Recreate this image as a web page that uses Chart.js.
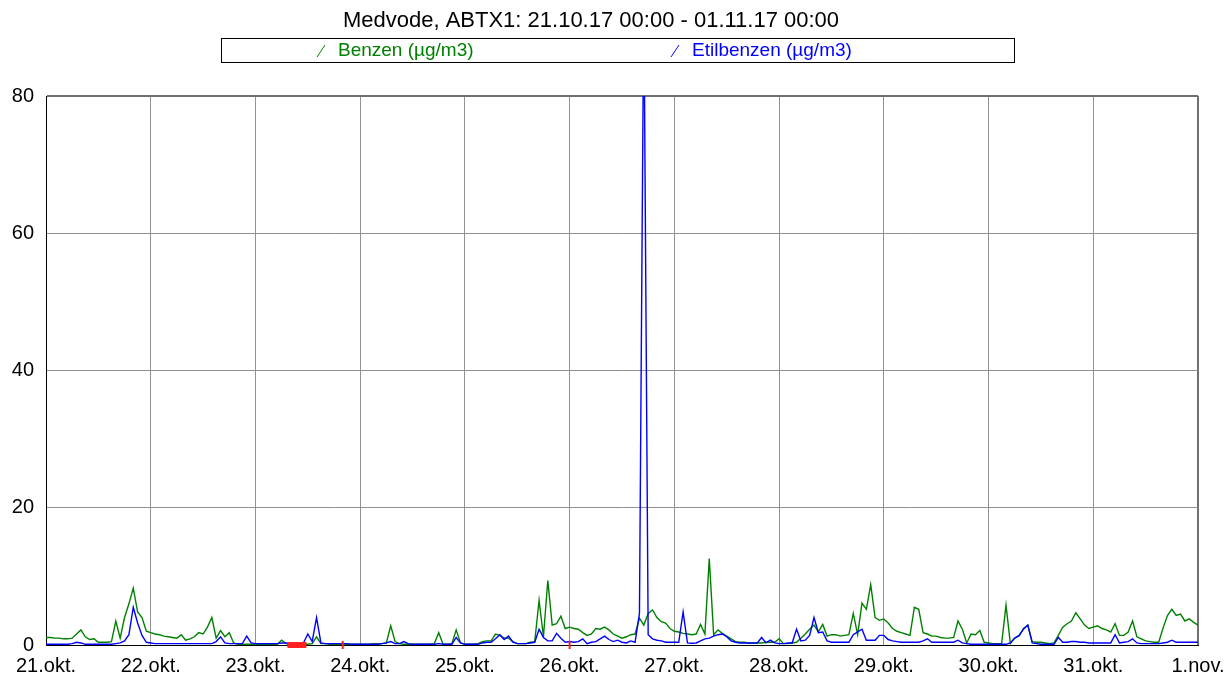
<!DOCTYPE html>
<html>
<head>
<meta charset="utf-8">
<script src="https://cdn.jsdelivr.net/npm/chart.js@4.4.0/dist/chart.umd.min.js"></script>
<style>
  html, body { margin: 0; padding: 0; background: #fff; }
  #wrap { width: 1225px; height: 679px; position: relative; }
</style>
</head>
<body>
<div id="wrap"><canvas id="chart"></canvas></div>
<script>
const title = 'Medvode, ABTX1: 21.10.17 00:00 - 01.11.17 00:00';
const dayLabels = ['21.okt.', '22.okt.', '23.okt.', '24.okt.', '25.okt.', '26.okt.',
  '27.okt.', '28.okt.', '29.okt.', '30.okt.', '31.okt.', '1.nov.'];
const yTicks = [0, 20, 40, 60, 80];
const seriesNames = ['Benzen (µg/m3)', 'Etilbenzen (µg/m3)'];

// hourly values, one row per day (00:00 .. 23:00), last value = 1.11. 00:00
const benzen = [
  1.1, 1.1, 1.0, 1.0, 0.9, 0.9, 1.0, 1.6, 2.2, 1.2, 0.8, 0.9, 0.4, 0.4, 0.4, 0.5, 3.5, 1.0, 4.0, 6.0, 8.3, 4.8, 4.0, 2.0,
  1.8, 1.6, 1.5, 1.3, 1.2, 1.1, 1.0, 1.5, 0.7, 0.9, 1.2, 1.8, 1.6, 2.6, 4.0, 1.0, 2.1, 1.2, 1.8, 0.3, 0.1, 0.1, 0.1, 0.1,
  0.1, 0.1, 0.1, 0.1, 0.1, 0.1, 0.7, 0.2, 0.1, 0.1, 0.1, 0.1, 0.1, 0.2, 1.2, 0.2, 0.2, 0.1, 0.1, 0.1, 0.1, 0.1, 0.1, 0.1,
  0.1, 0.1, 0.1, 0.2, 0.2, 0.2, 0.3, 2.8, 0.5, 0.2, 0.1, 0.1, 0.1, 0.1, 0.1, 0.1, 0.1, 0.2, 1.8, 0.1, 0.1, 0.2, 2.2, 0.3,
  0.1, 0.1, 0.1, 0.2, 0.5, 0.6, 0.6, 1.6, 1.4, 1.0, 1.0, 0.5, 0.2, 0.2, 0.2, 0.4, 0.5, 6.5, 1.2, 9.4, 2.9, 3.1, 4.2, 2.4,
  2.6, 2.4, 2.3, 1.8, 1.4, 1.6, 2.4, 2.3, 2.6, 2.2, 1.6, 1.3, 1.0, 1.2, 1.5, 1.6, 3.9, 2.9, 4.6, 5.1, 4.0, 3.4, 3.2, 2.4,
  2.0, 1.9, 1.7, 1.6, 1.5, 1.6, 3.0, 1.6, 12.6, 1.5, 2.2, 1.7, 1.3, 0.9, 0.5, 0.4, 0.4, 0.3, 0.3, 0.3, 0.3, 0.4, 0.4, 0.4,
  0.9, 0.2, 0.2, 0.3, 0.4, 1.0, 1.6, 2.3, 2.9, 1.9, 3.0, 1.3, 1.5, 1.5, 1.3, 1.4, 1.5, 4.6, 1.5, 6.1, 5.2, 8.8, 4.0, 3.6,
  3.8, 3.2, 2.4, 2.0, 1.8, 1.6, 1.4, 5.5, 5.2, 1.8, 1.6, 1.3, 1.3, 1.1, 1.0, 1.0, 1.1, 3.5, 2.3, 0.3, 1.6, 1.5, 2.1, 0.4,
  0.3, 0.2, 0.2, 0.2, 5.8, 0.2, 1.0, 1.3, 2.4, 2.9, 0.5, 0.4, 0.4, 0.3, 0.2, 0.3, 1.4, 2.6, 3.1, 3.5, 4.7, 3.8, 2.9, 2.4,
  2.6, 2.8, 2.4, 2.2, 1.9, 3.1, 1.4, 1.4, 1.9, 3.5, 1.2, 0.9, 0.6, 0.5, 0.4, 0.4, 2.5, 4.3, 5.2, 4.3, 4.5, 3.5, 3.8, 3.3,
  2.9
];
const etilbenzen = [
  0.1, 0.1, 0.1, 0.1, 0.1, 0.1, 0.2, 0.4, 0.3, 0.1, 0.1, 0.1, 0.1, 0.1, 0.1, 0.1, 0.2, 0.3, 0.6, 1.5, 5.5, 3.2, 1.4, 0.4,
  0.3, 0.2, 0.2, 0.2, 0.2, 0.2, 0.2, 0.2, 0.2, 0.2, 0.2, 0.2, 0.2, 0.2, 0.2, 0.5, 1.2, 0.3, 0.2, 0.2, 0.2, 0.2, 1.3, 0.3,
  0.2, 0.2, 0.2, 0.2, 0.2, 0.2, 0.3, 0.3, 0.2, 0.1, 0.1, 0.3, 1.6, 0.5, 4.0, 0.3, 0.2, 0.2, 0.2, 0.2, 0.2, 0.2, 0.1, 0.1,
  0.1, 0.1, 0.1, 0.1, 0.1, 0.2, 0.3, 0.5, 0.2, 0.2, 0.5, 0.2, 0.1, 0.1, 0.1, 0.1, 0.1, 0.1, 0.2, 0.1, 0.1, 0.1, 1.1, 0.3,
  0.1, 0.1, 0.1, 0.1, 0.3, 0.4, 0.4, 0.9, 1.5, 0.8, 1.3, 0.4, 0.2, 0.2, 0.2, 0.3, 0.4, 2.3, 1.1, 0.6, 0.6, 1.7, 1.0, 0.4,
  0.5, 0.4, 0.5, 0.9, 0.2, 0.4, 0.5, 0.9, 1.3, 0.8, 0.5, 0.7, 0.4, 0.3, 0.6, 0.4, 4.6, 95, 1.5, 0.9, 0.7, 0.6, 0.4, 0.4,
  0.4, 0.4, 4.8, 0.3, 0.25, 0.3, 0.6, 0.9, 1.0, 1.3, 1.5, 1.6, 1.2, 0.6, 0.4, 0.3, 0.3, 0.3, 0.3, 0.3, 1.1, 0.3, 0.7, 0.3,
  0.2, 0.2, 0.3, 0.3, 2.3, 0.6, 0.7, 1.4, 4.0, 1.8, 1.9, 0.6, 0.4, 0.4, 0.4, 0.4, 0.4, 1.5, 1.9, 2.3, 0.7, 0.7, 0.7, 1.4,
  1.4, 0.8, 0.6, 0.5, 0.4, 0.4, 0.4, 0.4, 0.4, 0.6, 0.9, 0.4, 0.4, 0.4, 0.4, 0.4, 0.4, 0.7, 0.3, 0.2, 0.1, 0.1, 0.1, 0.1,
  0.1, 0.1, 0.1, 0.1, 0.1, 0.3, 1.0, 1.4, 2.3, 2.9, 0.3, 0.2, 0.1, 0.1, 0.1, 0.1, 1.1, 0.4, 0.4, 0.5, 0.5, 0.4, 0.4, 0.3,
  0.3, 0.3, 0.3, 0.3, 0.3, 1.5, 0.3, 0.4, 0.5, 0.9, 0.3, 0.2, 0.2, 0.2, 0.2, 0.2, 0.3, 0.4, 0.7, 0.4, 0.4, 0.4, 0.4, 0.4,
  0.4
];
// hours with missing data (red marks on the axis)
const missingBlock = [56, 57, 58, 59];
const missingTicks = [68, 120];

const FONT = '"Liberation Sans", Arial, sans-serif';
Chart.defaults.font.family = FONT;
Chart.defaults.color = '#000';

const toPoints = arr => arr.map((v, i) => ({ x: i, y: v }));
const lastHour = (dayLabels.length - 1) * 24;

// title + boxed legend like the original report
const headerPlugin = {
  id: 'header',
  afterDraw(chart) {
    const c = chart.ctx;
    c.save();
    c.fillStyle = '#000';
    c.font = '22px ' + FONT;
    c.textAlign = 'center';
    c.textBaseline = 'middle';
    c.fillText(title, 591, 21);

    c.strokeStyle = '#000';
    c.lineWidth = 1;
    c.strokeRect(221.5, 38.5, 793, 24);

    const items = [
      { text: seriesNames[0], color: '#008000', x: 317 },
      { text: seriesNames[1], color: '#0000ff', x: 671 }
    ];
    c.font = '19px ' + FONT;
    c.textAlign = 'left';
    items.forEach(it => {
      c.strokeStyle = it.color;
      c.beginPath();
      c.moveTo(it.x, 57);
      c.lineTo(it.x + 8, 45);
      c.stroke();
      c.fillStyle = it.color;
      c.fillText(it.text, it.x + 21, 51);
    });
    c.restore();
  }
};

new Chart(document.getElementById('chart'), {
  type: 'line',
  data: {
    datasets: [
      {
        label: seriesNames[1],
        data: toPoints(etilbenzen),
        borderColor: '#0000ff',
        borderWidth: 1.4,
        pointRadius: 0,
        tension: 0,
        order: 1
      },
      {
        label: seriesNames[0],
        data: toPoints(benzen),
        borderColor: '#008000',
        borderWidth: 1.4,
        pointRadius: 0,
        tension: 0,
        order: 2
      },
      {
        label: 'missing',
        data: missingBlock.map(i => ({ x: i, y: 0 })),
        showLine: false,
        pointStyle: 'rect',
        pointRadius: 4.2,
        pointBorderWidth: 0,
        pointBackgroundColor: '#ff2020',
        clip: false,
        order: 0
      },
      {
        label: 'missing',
        data: missingTicks.map(i => ({ x: i, y: 0 })),
        showLine: false,
        pointStyle: 'line',
        pointRotation: 90,
        pointRadius: 4,
        pointBorderWidth: 2,
        pointBorderColor: '#ff2020',
        clip: false,
        order: 0
      }
    ]
  },
  options: {
    responsive: true,
    maintainAspectRatio: false,
    animation: false,
    events: [],
    layout: { padding: { top: 96, right: 27, left: 0, bottom: 0 } },
    plugins: {
      legend: { display: false },
      title: { display: false },
      tooltip: { enabled: false }
    },
    scales: {
      x: {
        type: 'linear',
        min: 0,
        max: lastHour,
        afterBuildTicks: s => {
          s.ticks = dayLabels.map((d, i) => ({ value: i * 24 }));
        },
        afterFit: s => {
          s.height = 34;
          s.paddingLeft = 0;
          s.paddingRight = 0;
        },
        ticks: {
          autoSkip: false,
          maxRotation: 0,
          padding: 9,
          font: { size: 20 },
          callback: v => dayLabels[Math.round(v / 24)]
        },
        grid: {
          drawTicks: false,
          color: ctx => (ctx.tick && ctx.tick.value === lastHour) ? '#707070' : '#909090',
          lineWidth: ctx => (ctx.tick && ctx.tick.value === lastHour) ? 2 : 1
        },
        border: { color: '#000', width: 1 }
      },
      y: {
        min: yTicks[0],
        max: yTicks[yTicks.length - 1],
        afterBuildTicks: s => {
          s.ticks = yTicks.map(v => ({ value: v }));
        },
        afterFit: s => { s.width = 46; },
        ticks: {
          padding: 12,
          font: { size: 20 }
        },
        grid: {
          drawTicks: false,
          color: ctx => (ctx.tick && ctx.tick.value === yTicks[yTicks.length - 1]) ? '#707070' : '#909090',
          lineWidth: ctx => (ctx.tick && ctx.tick.value === yTicks[yTicks.length - 1]) ? 2 : 1
        },
        border: { color: '#000', width: 1 }
      }
    }
  },
  plugins: [headerPlugin]
});
</script>
</body>
</html>
